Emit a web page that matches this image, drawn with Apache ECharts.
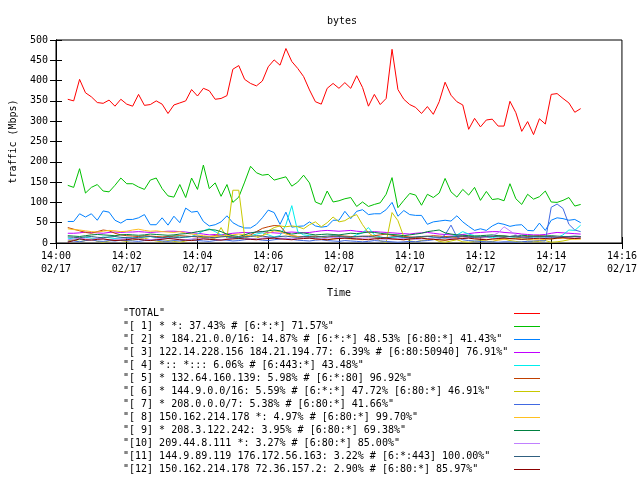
<!DOCTYPE html>
<html>
<head>
<meta charset="utf-8">
<script src="https://cdn.jsdelivr.net/npm/echarts@6/dist/echarts.min.js"></script>
<style>html,body{margin:0;padding:0;background:#fff}#c{width:640px;height:480px}</style>
</head>
<body>
<div id="c"></div>
<script>
// ---- data ----
const titleText = 'bytes';
const yTitle = 'traffic (Mbps)';
const xTitle = 'Time';
const dateLabel = '02/17';
const xTickLabels = ['14:00','14:02','14:04','14:06','14:08','14:10','14:12','14:14','14:16'];
const startSec = 20;   // first sample 14:00:20
const stepSec = 10;    // one sample every 10 s

const seriesNames = [
  '"TOTAL"',
  '"[ 1] * *: 37.43% # [6:*:*] 71.57%"',
  '"[ 2] * 184.21.0.0/16: 14.87% # [6:*:*] 48.53% [6:80:*] 41.43%"',
  '"[ 3] 122.14.228.156 184.21.194.77: 6.39% # [6:80:50940] 76.91%"',
  '"[ 4] *:: *::: 6.06% # [6:443:*] 43.48%"',
  '"[ 5] * 132.64.160.139: 5.98% # [6:*:80] 96.92%"',
  '"[ 6] * 144.9.0.0/16: 5.59% # [6:*:*] 47.72% [6:80:*] 46.91%"',
  '"[ 7] * 208.0.0.0/7: 5.38% # [6:80:*] 41.66%"',
  '"[ 8] 150.162.214.178 *: 4.97% # [6:80:*] 99.70%"',
  '"[ 9] * 208.3.122.242: 3.95% # [6:80:*] 69.38%"',
  '"[10] 209.44.8.111 *: 3.27% # [6:80:*] 85.00%"',
  '"[11] 144.9.89.119 176.172.56.163: 3.22% # [6:*:443] 100.00%"',
  '"[12] 150.162.214.178 72.36.157.2: 2.90% # [6:80:*] 85.97%"'
];
const seriesColors = ['#ff0000','#00c000','#0080ff','#c000ff','#00eeee','#c04000','#c8c800','#4169e1','#ffc020','#008040','#c080ff','#306080','#8b0000'];

const total = [354,350,403,370,360,346,344,352,337,354, 342,337,366,339,341,350,342,319,340,345,
  350,378,362,381,375,354,356,363,428,437, 403,393,387,399,434,451,438,479,447,430,
  410,377,348,342,381,393,381,395,381,412, 383,337,366,341,356,477,378,354,341,334,
  319,336,317,348,396,364,348,340,280,307, 286,303,305,288,288,349,321,275,299,267,
  306,293,366,368,356,345,322,331];
const s1 = [142,137,183,123,137,144,128,126,142,160, 146,146,138,132,155,160,134,116,113,144,
  112,160,132,192,134,148,115,144,100,113, 150,189,173,167,169,155,159,163,140,150,
  167,148,101,95,128,101,104,109,112,90, 101,90,95,99,120,161,87,105,122,118,
  93,120,112,123,159,126,113,132,118,137, 105,127,107,109,104,146,109,95,120,108,
  114,128,101,100,105,112,91,95];
const s2 = [53,53,72,64,72,56,79,76,56,49, 58,58,62,70,45,45,62,44,66,50,
  86,76,78,53,42,45,52,67,50,42, 37,37,46,62,81,75,46,76,39,41,
  42,52,42,39,41,56,56,78,60,78, 82,70,72,72,82,100,66,80,70,68,
  68,46,52,54,56,54,67,52,41,31, 35,31,42,49,46,41,44,45,31,30,
  49,31,56,62,60,56,58,50];
const s3 = [24,24,25,27,26,25,24,26,27,26, 27,27,28,27,26,27,28,29,29,28,
  27,25,24,22,20,21,20,22,24,25, 26,25,27,28,26,25,24,26,27,26,
  25,26,28,30,31,30,29,30,31,29, 28,27,28,27,26,25,24,23,22,24,
  25,26,24,22,21,20,19,21,23,25, 26,27,28,28,26,25,24,22,21,20,
  20,21,24,26,25,24,23,22];
const s4 = [12,10,8,14,12,10,15,13,11,12, 14,13,12,15,16,14,13,12,18,15,
  14,16,22,30,35,28,20,15,12,10, 14,18,22,25,20,15,18,45,92,28,
  20,18,16,15,14,16,18,15,14,20, 25,38,20,15,12,14,15,13,12,14,
  15,16,14,13,12,15,20,28,22,18, 15,14,13,16,18,15,14,13,12,14,
  15,14,12,13,20,32,31,44];
const s5 = [38,34,30,26,24,28,32,30,24,20, 18,17,16,18,17,16,15,16,17,18,
  17,16,15,14,16,18,17,16,15,14, 16,20,28,36,40,43,42,25,18,16,
  15,16,17,15,14,16,18,17,16,15, 16,17,18,20,22,19,17,16,15,14,
  15,16,18,17,16,15,14,16,17,15, 14,15,16,18,17,16,15,14,16,17,
  18,17,16,15,14,15,16,15];
const s6 = [5,8,3,6,10,4,2,5,8,6, 4,7,10,12,8,5,3,6,4,2,
  5,8,12,15,10,12,38,12,130,130, 15,10,12,18,30,38,42,40,42,40,
  35,45,52,40,50,64,52,55,64,70, 45,25,15,5,2,75,55,15,5,3,
  6,8,10,4,2,5,8,3,2,4, 6,5,3,8,10,6,4,2,5,3,
  4,6,2,3,5,8,12,10];
const s7 = [4,5,3,6,8,5,4,6,5,7, 6,5,4,6,8,7,5,4,6,5,
  7,8,6,5,4,6,8,7,5,6, 8,10,9,7,6,8,10,12,9,7,
  6,5,7,8,6,5,4,6,5,4, 3,4,6,5,4,3,2,3,4,3,
  5,6,8,10,20,44,15,8,6,5, 4,3,3,2,3,3,2,3,4,5,
  6,5,88,96,85,46,32,28];
const s8 = [35,33,32,30,28,27,29,31,30,28, 29,32,34,31,29,30,28,27,26,28,
  24,22,20,18,16,15,17,18,20,22, 20,18,16,18,24,30,28,22,18,16,
  14,12,10,9,8,10,12,11,10,9, 8,10,12,14,12,10,9,8,10,11,
  12,10,9,8,7,9,10,12,14,12, 10,9,8,7,9,10,11,10,9,8,
  8,9,10,11,12,10,9,10];
const s9 = [18,17,16,18,20,21,20,19,18,20, 21,20,19,20,22,21,20,19,20,22,
  23,25,28,30,33,32,28,22,18,16, 20,25,27,28,30,32,30,25,22,24,
  25,22,20,21,22,21,20,22,24,23, 25,27,26,24,22,21,20,18,20,22,
  24,28,30,32,25,22,20,19,18,17, 18,19,20,18,17,16,18,19,18,17,
  16,17,18,17,16,15,16,15];
const s10 = [8,10,12,10,9,11,10,8,9,10, 11,12,10,9,8,10,11,12,10,9,
  8,10,12,11,10,9,8,10,12,14, 12,11,10,12,14,13,12,11,10,12,
  13,12,11,10,12,14,13,12,11,10, 12,13,11,10,9,10,12,11,10,9,
  10,11,12,13,12,11,10,12,14,13, 12,14,18,25,40,30,20,15,13,12,
  11,12,14,15,14,13,12,13];
const s11 = [15,14,13,15,16,14,13,15,16,14, 13,12,14,15,16,14,13,15,14,13,
  15,16,17,15,14,13,15,16,14,13, 15,16,18,17,15,14,16,17,15,14,
  16,15,14,16,17,18,16,15,14,16, 17,16,15,14,13,15,16,14,13,15,
  16,17,15,14,13,15,16,17,15,14, 15,16,17,15,14,16,17,15,14,16,
  17,16,15,14,15,16,17,16];
const s12 = [2,6,10,8,7,9,10,8,6,7, 8,10,9,7,6,8,9,11,10,8,
  7,6,8,10,9,8,7,9,10,11, 10,9,8,10,11,12,10,9,8,10,
  11,12,10,9,8,10,11,12,11,10, 9,8,10,11,12,10,9,8,10,11,
  12,10,9,8,7,9,10,11,12,10, 9,8,10,11,12,11,10,9,10,11,
  12,11,10,12,13,12,11,12];

const allValues = [total,s1,s2,s3,s4,s5,s6,s7,s8,s9,s10,s11,s12];

// ---- chart ----
const FONT = 'DejaVu Sans Mono';
const chart = echarts.init(document.getElementById('c'), null, {renderer:'canvas'});
const times = total.map((_, i) => startSec + stepSec * i);

const axisCommon = {
  axisLine: {show: true, lineStyle: {color: '#000', width: 1}},
  axisTick: {show: true, inside: true, length: 6, lineStyle: {color: '#000', width: 1}},
  splitLine: {show: false}
};

const option = {
  animation: false,
  backgroundColor: '#fff',
  textStyle: {fontFamily: FONT},
  title: {
    text: titleText, left: 337, top: 11, textAlign: 'center',
    textStyle: {fontFamily: FONT, fontSize: 10, fontWeight: 'normal', color: '#000'}
  },
  grid: {left: 52, top: 40, right: 18, bottom: 237, show: true, borderColor: '#000', borderWidth: 1, containLabel: false},
  xAxis: [
    Object.assign({}, axisCommon, {
      type: 'value', min: 0, max: 960, interval: 120, position: 'bottom',
      name: xTitle, nameLocation: 'middle', nameGap: 45,
      nameTextStyle: {fontFamily: FONT, fontSize: 10, color: '#000'},
      axisLabel: {
        color: '#000', fontFamily: FONT, fontSize: 10, margin: 7, lineHeight: 13,
        formatter: v => xTickLabels[Math.round(v / 120)] + '\n' + dateLabel
      }
    }),
    Object.assign({}, axisCommon, {
      type: 'value', min: 0, max: 960, interval: 120, position: 'top',
      axisLabel: {show: false}
    })
  ],
  yAxis: [
    Object.assign({}, axisCommon, {
      type: 'value', min: 0, max: 500, interval: 50, position: 'left',
      name: yTitle, nameLocation: 'middle', nameGap: 38,
      nameTextStyle: {fontFamily: FONT, fontSize: 10, color: '#000'},
      axisLabel: {color: '#000', fontFamily: FONT, fontSize: 10, margin: 8}
    }),
    Object.assign({}, axisCommon, {
      type: 'value', min: 0, max: 500, interval: 50, position: 'right',
      axisLabel: {show: false}
    })
  ],
  legend: {
    orient: 'vertical', left: 123, top: 307, height: 175, padding: 0, align: 'right',
    icon: 'rect', itemWidth: 26, itemHeight: 1, itemGap: 0,
    selectedMode: false,
    data: seriesNames,
    formatter: name => '{t|' + name + '}',
    textStyle: {
      fontFamily: FONT, fontSize: 10, color: '#000', lineHeight: 13,
      rich: {t: {fontFamily: FONT, fontSize: 10, color: '#000', width: 386, align: 'left', lineHeight: 13}}
    }
  },
  series: seriesNames.map((name, k) => ({
    name: name,
    type: 'line',
    xAxisIndex: 0, yAxisIndex: 0,
    symbol: 'none',
    color: seriesColors[k],
    lineStyle: {width: 1, color: seriesColors[k]},
    data: allValues[k].map((v, i) => [times[i], v])
  }))
};
chart.setOption(option);
</script>
</body>
</html>
